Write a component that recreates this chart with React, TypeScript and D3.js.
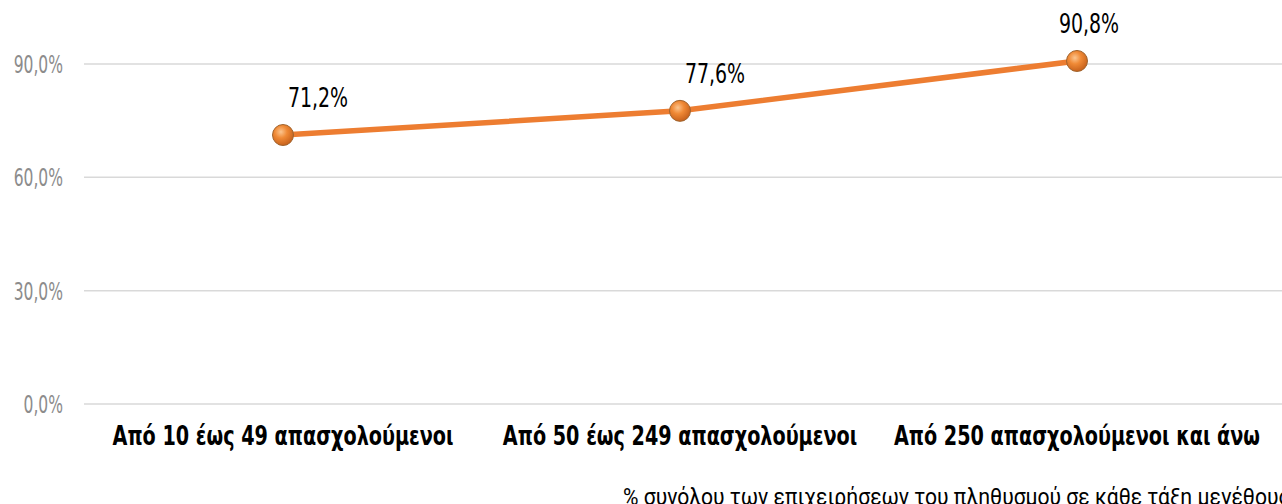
import { useRef, useEffect } from "react";
import { select, scaleLinear, scaleBand, line, format } from "d3";

const categories = [
  "Από 10 έως 49 απασχολούμενοι",
  "Από 50 έως 249 απασχολούμενοι",
  "Από 250 απασχολούμενοι και άνω",
];
const values = [71.2, 77.6, 90.8];
const yTicks = [0, 30, 60, 90];
const footnote = "% συνόλου των επιχειρήσεων του πληθυσμού σε κάθε τάξη μεγέθους";

const W = 1282;
const H = 504;
const font = "'DejaVu Sans Condensed', 'DejaVu Sans', sans-serif";
const pct = (d: number) => format(".1f")(d).replace(".", ",") + "%";

export default function App() {
  const ref = useRef<SVGSVGElement | null>(null);

  useEffect(() => {
    const svg = select(ref.current!);
    svg.selectAll("*").remove();

    const x = scaleBand().domain(categories).range([84.5, 1275.5]);
    const y = scaleLinear().domain([0, 90]).range([404, 64]);
    const cx = (i: number) => x(categories[i])! + x.bandwidth() / 2;

    // gradient for the markers
    const defs = svg.append("defs");
    const grad = defs
      .append("radialGradient")
      .attr("id", "ball")
      .attr("cx", "40%")
      .attr("cy", "35%")
      .attr("r", "65%");
    grad.append("stop").attr("offset", "0%").attr("stop-color", "#fbc58f");
    grad.append("stop").attr("offset", "45%").attr("stop-color", "#f08a36");
    grad.append("stop").attr("offset", "100%").attr("stop-color", "#c8621c");

    // gridlines
    svg
      .append("g")
      .selectAll("line")
      .data(yTicks)
      .join("line")
      .attr("x1", 84)
      .attr("x2", W)
      .attr("y1", (d) => y(d))
      .attr("y2", (d) => y(d))
      .attr("stroke", "#d9d9d9")
      .attr("stroke-width", 1.5);

    // y tick labels (condensed look via scaleX)
    svg
      .append("g")
      .selectAll("text")
      .data(yTicks)
      .join("text")
      .attr("transform", (d) => `translate(63,${y(d) + 9}) scale(0.72,1)`)
      .attr("text-anchor", "end")
      .attr("font-family", font)
      .attr("font-size", 24)
      .attr("fill", "#8c8c8c")
      .text((d) => pct(d));

    // category labels
    svg
      .append("g")
      .selectAll("text")
      .data(categories)
      .join("text")
      .attr("transform", (d) => `translate(${x(d)! + x.bandwidth() / 2},445) scale(0.79,1)`)
      .attr("text-anchor", "middle")
      .attr("font-family", font)
      .attr("font-weight", "bold")
      .attr("font-size", 27)
      .attr("fill", "#000")
      .text((d) => d);

    const path: any = line<number>()
      .x((d, i) => cx(i))
      .y((d) => y(d));

    svg
      .append("path")
      .datum(values)
      .attr("d", path)
      .attr("fill", "none")
      .attr("stroke", "#ed7d31")
      .attr("stroke-width", 5.5)
      .attr("stroke-linejoin", "round");

    svg
      .append("g")
      .selectAll("circle")
      .data(values)
      .join("circle")
      .attr("cx", (d, i) => cx(i))
      .attr("cy", (d) => y(d))
      .attr("r", 10.5)
      .attr("fill", "url(#ball)")
      .attr("stroke", "#a0642e")
      .attr("stroke-width", 1);

    // data labels
    const shift = [35, 35, 12];
    svg
      .append("g")
      .selectAll("text")
      .data(values)
      .join("text")
      .attr("transform", (d, i) => `translate(${cx(i) + shift[i]},${y(d) - 28}) scale(0.78,1)`)
      .attr("text-anchor", "middle")
      .attr("font-family", font)
      .attr("font-size", 27)
      .attr("fill", "#000")
      .text((d) => pct(d));

    // footnote
    svg
      .append("text")
      .attr("transform", "translate(623,505) scale(0.88,1)")
      .attr("font-family", "Roboto, sans-serif")
      .attr("font-size", 24)
      .attr("fill", "#000")
      .text(footnote);
  }, []);

  return (
    <svg
      ref={ref}
      width={W}
      height={H}
      style={{ position: "absolute", left: 0, top: 0, background: "#fff" }}
    ></svg>
  );
}
